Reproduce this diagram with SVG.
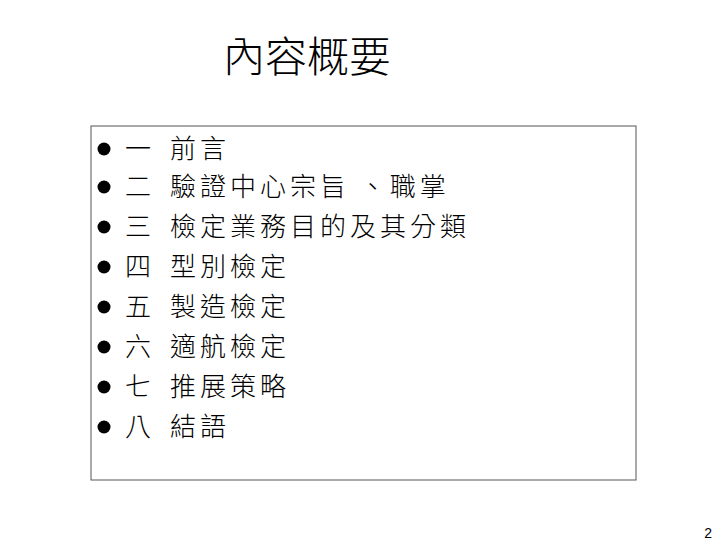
<svg xmlns="http://www.w3.org/2000/svg" width="720" height="540" viewBox="0 0 720 540">
<style>
text{font-family:"Noto Sans CJK TC","Liberation Sans",sans-serif;fill:#000;font-weight:300}
.t{font-size:26px;letter-spacing:4px}
</style>
<rect width="720" height="540" fill="#fff"/>
<text x="307" y="72" font-size="42" text-anchor="middle">內容概要</text>
<rect x="91" y="126" width="545" height="354" fill="none" stroke="#555" stroke-width="1"/>
<g fill="#000">
<circle cx="104" cy="149" r="6.5"/><circle cx="104" cy="187" r="6.5"/><circle cx="104" cy="227" r="6.5"/><circle cx="104" cy="267" r="6.5"/>
<circle cx="104" cy="307" r="6.5"/><circle cx="104" cy="347" r="6.5"/><circle cx="104" cy="387" r="6.5"/><circle cx="104" cy="427" r="6.5"/>
</g>
<g>
<text class="t" x="125" y="158">一</text><text class="t" x="170" y="158">前言</text>
<text class="t" x="125" y="196">二</text><text class="t" x="170" y="196">驗證中心宗旨  、職掌</text>
<text class="t" x="125" y="236">三</text><text class="t" x="170" y="236">檢定業務目的及其分類</text>
<text class="t" x="125" y="276">四</text><text class="t" x="170" y="276">型別檢定</text>
<text class="t" x="125" y="316">五</text><text class="t" x="170" y="316">製造檢定</text>
<text class="t" x="125" y="356">六</text><text class="t" x="170" y="356">適航檢定</text>
<text class="t" x="125" y="396">七</text><text class="t" x="170" y="396">推展策略</text>
<text class="t" x="125" y="436">八</text><text class="t" x="170" y="436">結語</text>
</g>
<text x="712" y="538" font-size="14" text-anchor="end" style="font-family:'Liberation Sans',sans-serif;font-weight:400">2</text>
</svg>
